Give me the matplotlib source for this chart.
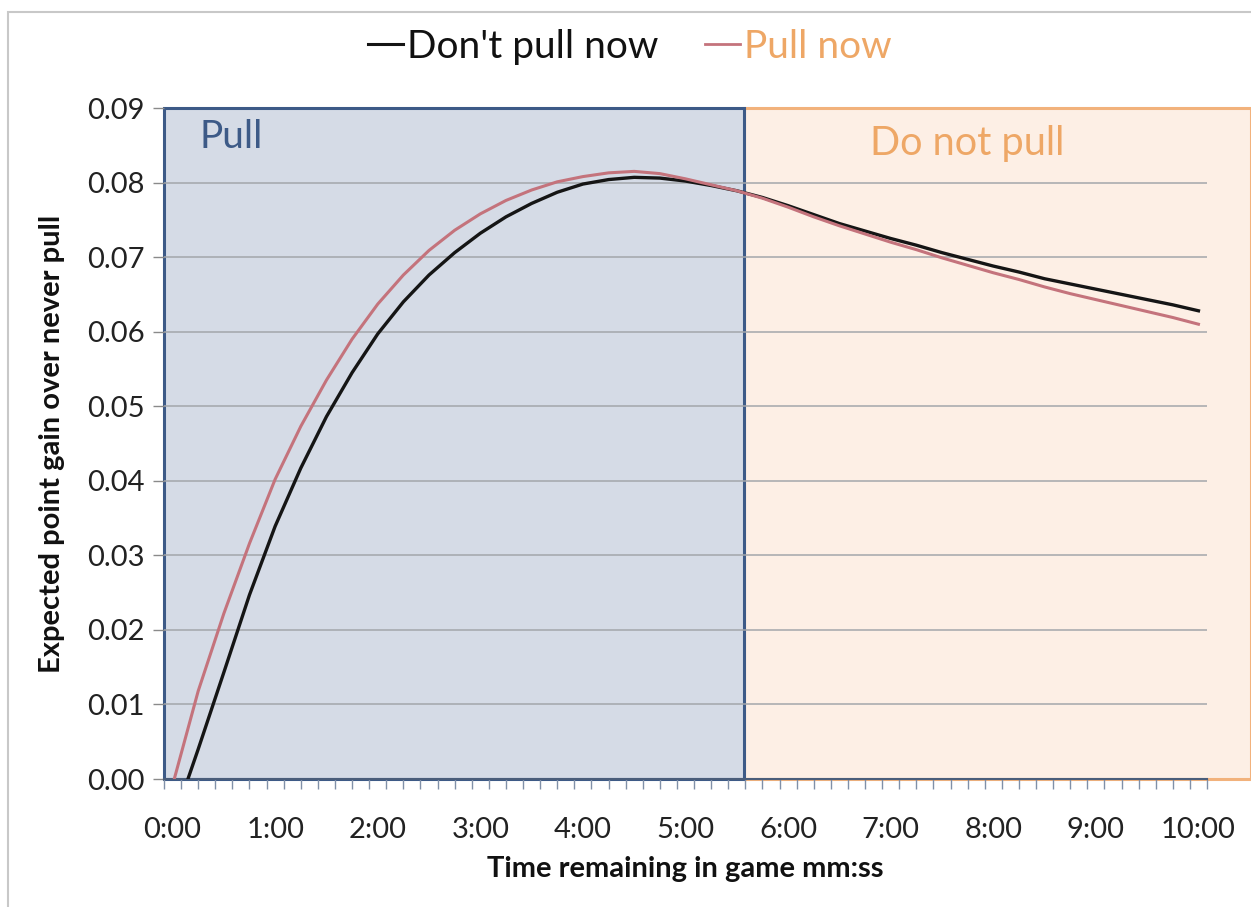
import matplotlib
matplotlib.use("Agg")
import matplotlib.pyplot as plt
from matplotlib.patches import Rectangle
from matplotlib.lines import Line2D
from matplotlib.ticker import FixedLocator, FuncFormatter

plt.rcParams['font.family'] = ['Lato', 'DejaVu Sans']

# Data (time remaining in seconds, expected point gain over never pulling)
t_dont = [9, 15, 30, 45, 60, 75, 90, 105, 120, 135, 150, 165, 180, 195, 210, 225,
          240, 255, 270, 285, 300, 315, 330, 345, 360, 375, 390, 405, 420, 435,
          450, 465, 480, 495, 510, 525, 540, 555, 570, 585, 600]
v_dont = [0.0000, 0.0040, 0.0143, 0.0247, 0.0339, 0.0417, 0.0486, 0.0545, 0.0597,
          0.0640, 0.0676, 0.0706, 0.0732, 0.0754, 0.0772, 0.0787, 0.0798, 0.0804,
          0.0807, 0.0806, 0.0802, 0.0796, 0.0789, 0.0780, 0.0769, 0.0757, 0.0745,
          0.0735, 0.0725, 0.0716, 0.0706, 0.0697, 0.0688, 0.0680, 0.0671, 0.0664,
          0.0657, 0.0650, 0.0643, 0.0636, 0.0628]

t_pull = [1, 15, 30, 45, 60, 75, 90, 105, 120, 135, 150, 165, 180, 195, 210, 225,
          240, 255, 270, 285, 300, 315, 330, 345, 360, 375, 390, 405, 420, 435,
          450, 465, 480, 495, 510, 525, 540, 555, 570, 585, 600]
v_pull = [0.0000, 0.0118, 0.0222, 0.0316, 0.0402, 0.0473, 0.0535, 0.0590, 0.0637,
          0.0676, 0.0709, 0.0736, 0.0758, 0.0776, 0.0790, 0.0801, 0.0808, 0.0813,
          0.0815, 0.0812, 0.0805, 0.0797, 0.0789, 0.0779, 0.0767, 0.0754, 0.0742,
          0.0731, 0.0720, 0.0710, 0.0699, 0.0689, 0.0679, 0.0670, 0.0660, 0.0651,
          0.0643, 0.0635, 0.0627, 0.0619, 0.0610]

x_tick_labels = ["0:00", "1:00", "2:00", "3:00", "4:00", "5:00",
                 "6:00", "7:00", "8:00", "9:00", "10:00"]
y_ticks = [0.00, 0.01, 0.02, 0.03, 0.04, 0.05, 0.06, 0.07, 0.08, 0.09]
pull_boundary = 334  # seconds

fig = plt.figure(figsize=(12.51, 9.07), dpi=100)
ax = fig.add_axes([164/1251, 1-779/907, (1207-164)/1251, (779-108)/907])

xmin, xmax = -5, 605
ax.set_xlim(xmin, xmax)
ax.set_ylim(0, 0.09)

# Regions
ax.add_patch(Rectangle((xmin, 0), pull_boundary - xmin, 0.09, facecolor='#d5dbe6',
                       edgecolor='#3d5a87', linewidth=2.2, zorder=0.5, clip_on=False))
ax.add_patch(Rectangle((pull_boundary, 0), 630.5 - pull_boundary, 0.09, facecolor='#fdefe5',
                       edgecolor='#f2b27c', linewidth=2.2, zorder=0.4, clip_on=False))

# gridlines
for y in y_ticks[1:-1]:
    ax.axhline(y, color='#a3a6ab', linewidth=1.1, zorder=1)

ax.plot(t_dont, v_dont, color='#151515', linewidth=2.4, zorder=3)
ax.plot(t_pull, v_pull, color='#c4737c', linewidth=2.2, zorder=3)

for s in ['top', 'right', 'left']:
    ax.spines[s].set_visible(False)
ax.spines['bottom'].set_color('#4a5d7a')
ax.spines['bottom'].set_linewidth(1.5)
ax.spines['bottom'].set_zorder(2)

# X ticks: minor tick marks between categories, labels every minute
ax.xaxis.set_major_locator(FixedLocator([60 * i for i in range(11)]))
ax.set_xticklabels(x_tick_labels)
ax.xaxis.set_minor_locator(FixedLocator([-5 + 10 * k for k in range(62)]))
ax.tick_params(axis='x', which='major', length=0, pad=27, labelsize=21, labelcolor='#222222')
ax.tick_params(axis='x', which='minor', length=7, width=1, color='#8090a8', direction='out')

ax.yaxis.set_major_locator(FixedLocator(y_ticks))
ax.yaxis.set_major_formatter(FuncFormatter(lambda v, p: f"{v:.2f}"))
ax.tick_params(axis='y', length=8, width=1, color='#8a8a8a', pad=6, labelsize=21,
               labelcolor='#222222')

ax.set_xlabel("Time remaining in game mm:ss", fontsize=21, fontweight='bold', labelpad=10,
              color='#111111')
ax.set_ylabel("Expected point gain over never pull", fontsize=21, fontweight='bold',
              labelpad=16, color='#111111')

fig.text(200/1251, 1-137/907, "Pull", fontsize=28, color='#3d5a87', va='center', ha='left')
fig.text(870/1251, 1-144/907, "Do not pull", fontsize=28.5, color='#eea766', va='center',
         ha='left')

handles = [Line2D([], [], color='#151515', linewidth=2.2),
           Line2D([], [], color='#c4737c', linewidth=2.0)]
leg = fig.legend(handles, ["Don't pull now", "Pull now"], loc='center',
                 bbox_to_anchor=(630/1251, 1-47/907), ncol=2, frameon=False,
                 fontsize=28, handlelength=0.9, handletextpad=0.1, columnspacing=1.2)
leg.get_texts()[0].set_color('#111111')
leg.get_texts()[1].set_color('#eea766')

# outer chart border (light gray)
fig.patches.append(Rectangle((8/1251, -0.01), 1.02, 1 - 12/907 + 0.01, transform=fig.transFigure,
                             facecolor='none', edgecolor='#c8c8c8', linewidth=1.5))

fig.savefig("out.png", dpi=100)
